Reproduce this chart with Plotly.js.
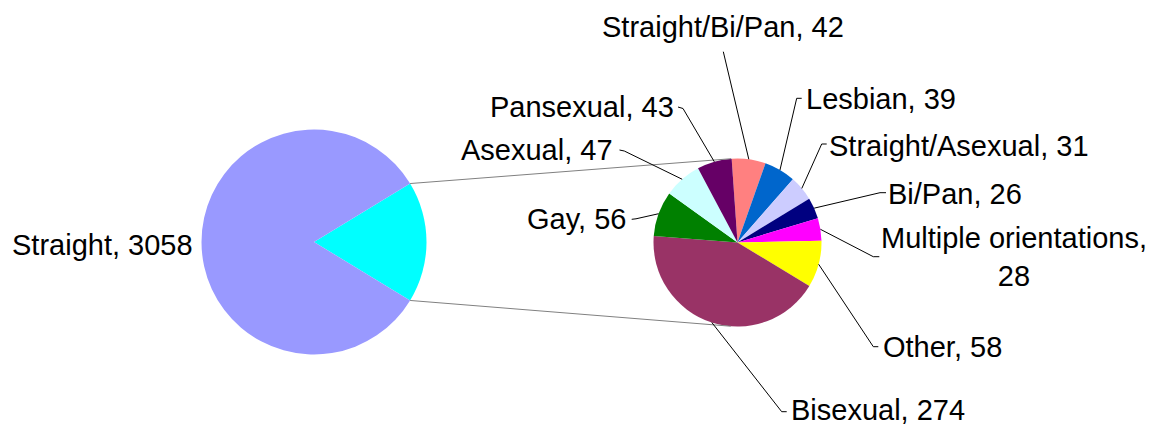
<!DOCTYPE html>
<html>
<head>
<meta charset="utf-8">
<script src="https://cdn.plot.ly/plotly-3.0.1.min.js"></script>
<style>html,body{margin:0;padding:0;background:#fff;}#chart{width:1150px;height:426px;}</style>
</head>
<body>
<div id="chart"></div>
<script>
// ---- data ----
const mainLabel = 'Straight';
const mainValue = 3058;
const subLabels = ['Straight/Bi/Pan', 'Lesbian', 'Straight/Asexual', 'Bi/Pan', 'Multiple orientations', 'Other', 'Bisexual', 'Gay', 'Asexual', 'Pansexual'];
const subValues = [42, 39, 31, 26, 28, 58, 274, 56, 47, 43];
const subColors = ['#FF8080', '#0066CC', '#CCCCFF', '#000080', '#FF00FF', '#FFFF00', '#993366', '#008000', '#CCFFFF', '#660066'];
const mainColors = ['#00FFFF', '#9999FF'];

// ---- layout (pixels) ----
const W = 1150, H = 426;
const FONT = {family: 'Liberation Sans, Arial, sans-serif', size: 29, color: '#000'};
const mainPie = {cx: 314, cy: 242, r: 112.5};
const subPie = {cx: 737.5, cy: 242.5, r: 84, rotation: -4};
// label placement: text anchor (tx,ty,xanchor), elbow point, tick end (null = none)
const labelPos = {
  'Straight/Bi/Pan':       {tx: 722.5, ty: 27,  xa: 'center', elbow: [723.3, 51.7], tick: null},
  'Lesbian':               {tx: 805,   ty: 99,  xa: 'left',   elbow: [796.7, 98.3], tick: [801.7, 98.3]},
  'Straight/Asexual':      {tx: 828,   ty: 146, xa: 'left',   elbow: [821.7, 144],  tick: [826.7, 144]},
  'Bi/Pan':                {tx: 887,   ty: 194, xa: 'left',   elbow: [880, 192.7],  tick: [886, 192.7]},
  'Multiple orientations': {tx: 880,   ty: 256.5, xa: 'left', elbow: [873.3, 256.7], tick: [879.3, 256.7], br: true},
  'Other':                 {tx: 882,   ty: 347, xa: 'left',   elbow: [873.3, 346.7], tick: [878.3, 346.7]},
  'Bisexual':              {tx: 790,   ty: 409.5, xa: 'left', elbow: [781.7, 411.7], tick: [786.7, 411.7]},
  'Gay':                   {tx: 627,   ty: 218.5, xa: 'right', elbow: [636, 218.8], tick: [631.7, 219.3]},
  'Asexual':               {tx: 614,   ty: 150.5, xa: 'right', elbow: [624.3, 151], tick: [619.5, 150]},
  'Pansexual':             {tx: 675,   ty: 107, xa: 'right',  elbow: [683, 108.5], tick: [678, 107]}
};
const mainLabelPos = {tx: 194, ty: 245};

// ---- helpers ----
const px = x => x / W;
const py = y => 1 - y / H;
const deg = Math.PI / 180;

const subTotal = subValues.reduce((a, b) => a + b, 0);
const total = subTotal + mainValue;
const mainRotation = 90 - 180 * subTotal / total;

const traces = [
  {
    type: 'pie', values: [subTotal, mainValue], labels: ['Other orientations', mainLabel],
    marker: {colors: mainColors, line: {width: 0}}, sort: false, direction: 'clockwise',
    rotation: mainRotation, textinfo: 'none', hoverinfo: 'label+value', showlegend: false,
    domain: {x: [px(mainPie.cx - mainPie.r), px(mainPie.cx + mainPie.r)], y: [py(mainPie.cy + mainPie.r), py(mainPie.cy - mainPie.r)]}
  },
  {
    type: 'pie', values: subValues, labels: subLabels,
    marker: {colors: subColors, line: {width: 0}}, sort: false, direction: 'clockwise',
    rotation: subPie.rotation, textinfo: 'none', hoverinfo: 'label+value', showlegend: false,
    domain: {x: [px(subPie.cx - subPie.r), px(subPie.cx + subPie.r)], y: [py(subPie.cy + subPie.r), py(subPie.cy - subPie.r)]}
  }
];

const shapes = [];
const annotations = [];
function line(x0, y0, x1, y1, color, width) {
  shapes.push({type: 'line', xref: 'paper', yref: 'paper', x0: px(x0), y0: py(y0), x1: px(x1), y1: py(y1),
    line: {color: color, width: width}});
}

// connector lines: from edges of the aggregated slice to tangent points on the secondary pie
const a0 = mainRotation * deg, a1 = (mainRotation + 360 * subTotal / total) * deg;
const edgeTop = [mainPie.cx + mainPie.r * Math.sin(a0), mainPie.cy - mainPie.r * Math.cos(a0)];
const edgeBot = [mainPie.cx + mainPie.r * Math.sin(a1), mainPie.cy - mainPie.r * Math.cos(a1)];
function tangent(P, sign) {
  const dx = P[0] - subPie.cx, dy = P[1] - subPie.cy;
  const d = Math.hypot(dx, dy);
  const base = Math.atan2(dy, dx);
  const off = Math.acos(subPie.r / d);
  const t = base + sign * off;
  return [subPie.cx + subPie.r * Math.cos(t), subPie.cy + subPie.r * Math.sin(t)];
}
const tTop = tangent(edgeTop, 1);
const tBot = tangent(edgeBot, -1);
line(edgeTop[0], edgeTop[1], tTop[0], tTop[1], '#808080', 1);
line(edgeBot[0], edgeBot[1], tBot[0], tBot[1], '#808080', 1);

// secondary pie labels with leader lines to slice mid-angles
let cum = 0;
subLabels.forEach((lab, i) => {
  const mid = (subPie.rotation + 360 * (cum + subValues[i] / 2) / subTotal) * deg;
  cum += subValues[i];
  const p = [subPie.cx + subPie.r * Math.sin(mid), subPie.cy - subPie.r * Math.cos(mid)];
  const L = labelPos[lab];
  line(p[0], p[1], L.elbow[0], L.elbow[1], '#000', 1);
  if (L.tick) line(L.elbow[0], L.elbow[1], L.tick[0], L.tick[1], '#000', 1);
  const txt = L.br ? lab + ',<br>' + subValues[i] : lab + ', ' + subValues[i];
  annotations.push({xref: 'paper', yref: 'paper', x: px(L.tx), y: py(L.ty), xanchor: L.xa, yanchor: 'middle',
    text: txt, showarrow: false, font: FONT, align: 'center', borderpad: 0});
});
annotations.push({xref: 'paper', yref: 'paper', x: px(mainLabelPos.tx), y: py(mainLabelPos.ty), xanchor: 'right', yanchor: 'middle',
  text: mainLabel + ', ' + mainValue, showarrow: false, font: FONT, borderpad: 0});

const layout = {
  width: W, height: H, margin: {l: 0, r: 0, t: 0, b: 0},
  paper_bgcolor: '#fff', plot_bgcolor: '#fff', showlegend: false,
  font: FONT, shapes: shapes, annotations: annotations
};
Plotly.newPlot('chart', traces, layout, {staticPlot: true, displayModeBar: false});
</script>
</body>
</html>
